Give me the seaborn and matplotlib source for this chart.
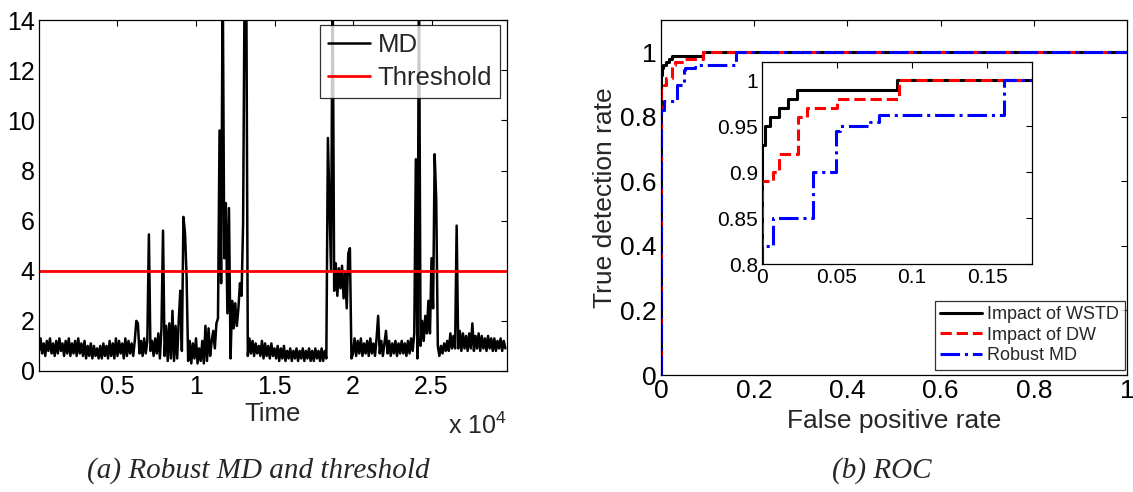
import numpy as np
import pandas as pd
import matplotlib.pyplot as plt
import seaborn as sns

# robust MD, one value every 100 samples
md = [
    0.8, 1.3, 0.7, 1.1, 0.6, 1.2, 0.8, 1.3, 0.7, 1.1,
    0.6, 1.2, 0.7, 1.3, 0.8, 1.1, 0.6, 1.2, 0.7, 1.3,
    0.6, 1.1, 0.7, 1.2, 0.6, 1.3, 0.7, 1.1, 0.6, 1.2,
    0.5, 1.0, 0.6, 1.1, 0.5, 1.0, 0.6, 0.9, 0.5, 1.0,
    0.5, 1.1, 0.6, 1.0, 0.5, 1.2, 0.6, 1.1, 0.5, 1.3,
    0.6, 1.2, 0.7, 1.1, 0.5, 1.3, 0.6, 1.2, 0.7, 1.1,
    0.6, 1.2, 2.0, 1.9, 0.7, 1.2, 0.6, 1.3, 0.7, 1.2,
    5.45, 0.8, 1.2, 0.6, 1.3, 0.7, 1.5, 0.5, 1.7, 5.6,
    0.6, 1.8, 0.4, 1.9, 0.5, 2.4, 0.4, 1.8, 0.5, 2.0,
    3.2, 0.8, 6.15, 5.5, 3.8, 0.4, 1.2, 0.3, 1.1, 0.5,
    1.3, 0.3, 0.9, 0.4, 1.2, 0.3, 1.8, 0.4, 1.7, 0.6,
    1.2, 1.6, 0.9, 1.9, 2.1, 9.6, 3.5, 16, 4.5, 6.7,
    2.3, 6.5, 0.5, 2.8, 1.7, 2.7, 1.8, 2.5, 3.5, 3.0,
    5.9, 16, 16, 0.6, 1.3, 0.7, 1.2, 0.6, 1.1, 0.7,
    1.0, 0.6, 1.2, 0.5, 1.1, 0.6, 1.0, 0.5, 1.1, 0.6,
    0.9, 0.5, 1.0, 0.4, 0.9, 0.5, 1.0, 0.4, 0.8, 0.5,
    0.9, 0.4, 0.8, 0.5, 0.9, 0.4, 0.8, 0.5, 0.9, 0.4,
    0.8, 0.5, 0.9, 0.4, 0.8, 0.4, 0.9, 0.5, 0.8, 0.4,
    0.9, 0.4, 0.8, 0.5, 9.3, 6.7, 4.0, 16, 3.2, 4.3,
    3.0, 4.1, 3.3, 4.2, 2.9, 3.9, 2.5, 4.7, 4.9, 0.5,
    0.7, 1.3, 0.6, 1.2, 0.7, 1.3, 0.6, 1.1, 0.7, 1.2,
    0.6, 1.3, 0.7, 1.1, 0.6, 1.3, 2.2, 0.7, 1.2, 0.6,
    1.1, 1.6, 0.7, 1.2, 0.6, 1.1, 0.7, 1.2, 0.6, 1.1,
    0.7, 1.2, 0.7, 1.1, 0.6, 1.2, 0.7, 1.3, 0.8, 1.5,
    8.45, 0.5, 16, 1.0, 2.0, 1.2, 2.2, 1.5, 2.8, 1.5,
    4.5, 2.5, 8.65, 6.8, 1.0, 0.6, 1.0, 0.7, 1.1, 0.8,
    1.2, 0.8, 1.5, 0.9, 1.4, 0.9, 5.8, 0.9, 1.6, 0.8,
    1.5, 0.9, 1.4, 0.8, 1.5, 0.9, 1.9, 0.8, 1.4, 0.9,
    1.5, 0.8, 1.4, 0.9, 1.3, 0.8, 1.4, 0.9, 1.3, 0.8,
    1.3, 0.8, 1.2, 0.9, 1.3, 0.8, 1.2, 0.9,
]
threshold = 4.0

# ROC step points
fpr_wstd = [0, 0, 0.002, 0.005, 0.011, 0.017, 0.023, 0.090, 1.0]
tpr_wstd = [0, 0.93, 0.95, 0.96, 0.97, 0.98, 0.99, 1.0, 1.0]
fpr_dw = [0, 0, 0.007, 0.011, 0.024, 0.030, 0.050, 0.091, 1.0]
tpr_dw = [0, 0.89, 0.90, 0.92, 0.96, 0.97, 0.98, 1.0, 1.0]
fpr_md = [0, 0, 0.007, 0.034, 0.049, 0.052, 0.072, 0.078, 0.161, 1.0]
tpr_md = [0, 0.82, 0.85, 0.90, 0.945, 0.95, 0.955, 0.962, 1.0, 1.0]

sns.set_theme(style='white')
plt.rcParams['font.family'] = ['Liberation Sans', 'DejaVu Sans']
plt.rcParams['mathtext.default'] = 'regular'


def matlab_axes(ax, size):
    for s in ax.spines.values():
        s.set_color('black')
        s.set_linewidth(0.9)
    ax.tick_params(direction='in', top=True, right=True, length=4, width=0.8,
                   colors='black', labelsize=size, pad=3)


fig = plt.figure(figsize=(11.33, 4.92), dpi=100)

# (a) robust MD
ax1 = fig.add_axes([0.0344, 0.246, 0.413, 0.713])
df_md = pd.DataFrame({'time': np.arange(len(md)) * 100, 'md': md})
sns.lineplot(data=df_md, x='time', y='md', color='black', lw=1.8, ax=ax1, label='MD')
ax1.axhline(threshold, color='red', lw=2, label='Threshold')
ax1.set_xlim(0, 29800)
ax1.set_ylim(0, 14)
ax1.set_xticks([5000, 10000, 15000, 20000, 25000])
ax1.set_xticklabels(['0.5', '1', '1.5', '2', '2.5'])
ax1.set_yticks(range(0, 15, 2))
ax1.set_xlabel('Time', fontsize=18.5, labelpad=2)
ax1.set_ylabel('')
matlab_axes(ax1, 18)
ax1.text(1.0, -0.12, r'x 10$^{4}$', transform=ax1.transAxes, ha='right', va='top', fontsize=18)
leg = ax1.legend(loc='upper right', bbox_to_anchor=(0.985, 0.985), fontsize=18.5, frameon=True,
                 fancybox=False, edgecolor='black', handlelength=1.65, borderpad=0.3,
                 labelspacing=0.35, handletextpad=0.3, borderaxespad=0)
leg.get_frame().set_linewidth(0.9)

# (b) ROC
roc = [
    (fpr_wstd, tpr_wstd, 'black', '-', 'Impact of WSTD'),
    (fpr_dw, tpr_dw, 'red', '--', 'Impact of DW'),
    (fpr_md, tpr_md, 'blue', '-.', 'Robust MD'),
]

ax2 = fig.add_axes([0.5834, 0.2378, 0.4113, 0.7215])
for fpr, tpr, c, ls, name in roc:
    sns.lineplot(x=fpr, y=tpr, color=c, linestyle=ls, lw=2.2, drawstyle='steps-post',
                 sort=False, estimator=None, ax=ax2, label=name)
ax2.set_xlim(0, 1)
ax2.set_ylim(0, 1.1)
ax2.set_xticks([0, 0.2, 0.4, 0.6, 0.8, 1])
ax2.set_xticklabels(['0', '0.2', '0.4', '0.6', '0.8', '1'])
ax2.set_yticks([0, 0.2, 0.4, 0.6, 0.8, 1])
ax2.set_yticklabels(['0', '0.2', '0.4', '0.6', '0.8', '1'])
ax2.set_xlabel('False positive rate', fontsize=19, labelpad=4)
ax2.set_ylabel('True detection rate', fontsize=19, labelpad=2)
matlab_axes(ax2, 19)
leg2 = ax2.legend(loc='lower right', bbox_to_anchor=(0.995, 0.015), fontsize=13, frameon=True,
                  fancybox=False, edgecolor='black', handlelength=2.3, borderpad=0.3,
                  labelspacing=0.2, handletextpad=0.3, borderaxespad=0)
leg2.get_frame().set_linewidth(0.9)

# inset zoom
ax3 = fig.add_axes([0.6726, 0.4634, 0.2383, 0.4106])
for fpr, tpr, c, ls, name in roc:
    sns.lineplot(x=fpr, y=tpr, color=c, linestyle=ls, lw=2.2, drawstyle='steps-post',
                 sort=False, estimator=None, ax=ax3, legend=False)
ax3.set_xlim(0, 0.18)
ax3.set_ylim(0.8, 1.02)
ax3.set_xticks([0, 0.05, 0.1, 0.15])
ax3.set_xticklabels(['0', '0.05', '0.1', '0.15'])
ax3.set_yticks([0.8, 0.85, 0.9, 0.95, 1])
ax3.set_yticklabels(['0.8', '0.85', '0.9', '0.95', '1'])
ax3.set_xlabel('')
ax3.set_ylabel('')
matlab_axes(ax3, 15)

cap = dict(fontsize=21, style='italic', family=['Liberation Serif', 'DejaVu Serif'],
           ha='center', va='center')
fig.text(258 / 1133, 1 - 471 / 492, '(a) Robust MD and threshold', **cap)
fig.text(882 / 1133, 1 - 471 / 492, '(b) ROC', **cap)

fig.savefig('out.png', dpi=100)
